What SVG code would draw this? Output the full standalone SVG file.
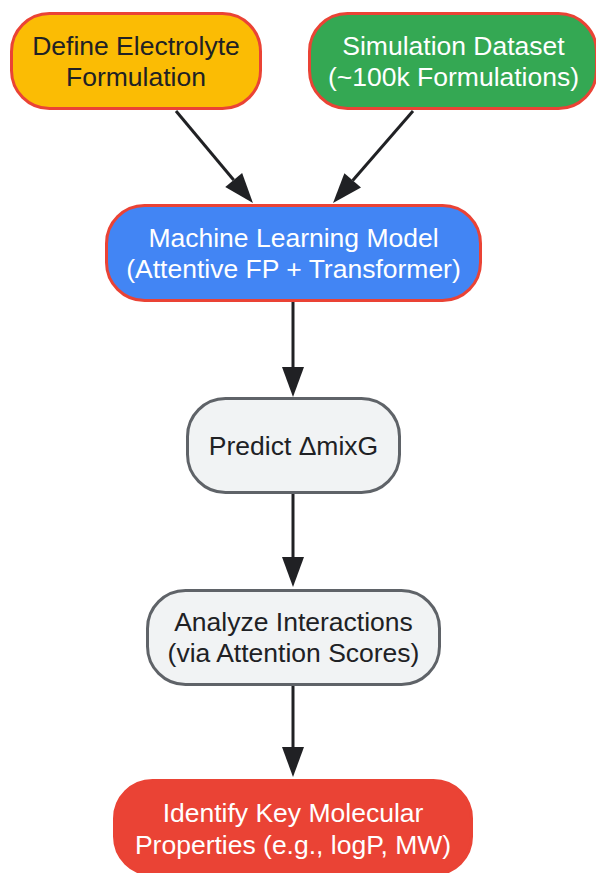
<svg xmlns="http://www.w3.org/2000/svg" width="596" height="873" viewBox="0 0 596 873">
  <defs>
    <marker id="arrow" markerUnits="userSpaceOnUse" markerWidth="30" markerHeight="22" refX="0" refY="11" orient="auto" overflow="visible">
      <path d="M0,0 L30,11 L0,22 z" fill="#202124"/>
    </marker>
    <style>
      .node rect { stroke-width: 3; }
      .accent rect { stroke: #ea4335; }
      .plain rect { fill: #f1f3f4; stroke: #5f6368; }
      text { font-family: "Liberation Sans", Arial, sans-serif; font-size: 26.5px; text-anchor: middle; }
      .dark { fill: #202124; }
      .light { fill: #ffffff; }
      .edge { stroke: #202124; stroke-width: 3; fill: none; marker-end: url(#arrow); }
    </style>
  </defs>
  <rect width="596" height="873" fill="#ffffff"/>

  <g id="connectors">
    <path class="edge" d="M176,111 L233.7,180"/>
    <path class="edge" d="M413,111 L352.7,180.4"/>
    <path class="edge" d="M293,302 L293,367"/>
    <path class="edge" d="M293,494 L293,557"/>
    <path class="edge" d="M293,686 L293,747"/>
  </g>

  <g id="define" class="node accent">
    <rect x="11.5" y="13.5" width="249" height="95" rx="38" fill="#fbbc04"/>
    <text class="dark" x="136" y="55">Define Electrolyte</text>
    <text class="dark" x="136" y="86">Formulation</text>
  </g>

  <g id="dataset" class="node accent">
    <rect x="309.5" y="13.5" width="287" height="95" rx="38" fill="#34a853"/>
    <text class="light" x="453.5" y="55">Simulation Dataset</text>
    <text class="light" x="453.5" y="86">(~100k Formulations)</text>
  </g>

  <g id="model" class="node accent">
    <rect x="106.5" y="205.5" width="374" height="95" rx="38" fill="#4285f4"/>
    <text class="light" x="293.5" y="247">Machine Learning Model</text>
    <text class="light" x="293.5" y="278">(Attentive FP + Transformer)</text>
  </g>

  <g id="predict" class="node plain">
    <rect x="187.5" y="398.5" width="212" height="94" rx="38"/>
    <text class="dark" x="293.5" y="455">Predict ΔmixG</text>
  </g>

  <g id="analyze" class="node plain">
    <rect x="147.5" y="590.5" width="292" height="94" rx="38"/>
    <text class="dark" x="293.5" y="631">Analyze Interactions</text>
    <text class="dark" x="293.5" y="662">(via Attention Scores)</text>
  </g>

  <g id="identify" class="node accent">
    <rect x="114.5" y="780.5" width="357" height="94" rx="38" fill="#ea4335"/>
    <text class="light" x="293" y="822">Identify Key Molecular</text>
    <text class="light" x="293" y="854">Properties (e.g., logP, MW)</text>
  </g>
</svg>
